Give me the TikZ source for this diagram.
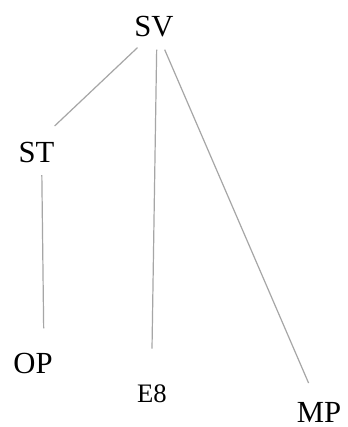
\documentclass[tikz,border=0pt]{standalone}
\usepackage{fontspec}
\setmainfont{Liberation Serif}
\usetikzlibrary{positioning}

\begin{document}
\begin{tikzpicture}[x=0.75pt,y=-0.75pt,
  lbl/.style={inner sep=0pt,font=\fontsize{23}{26}\selectfont},
  small/.style={inner sep=0pt,font=\fontsize{20}{23}\selectfont},
  edge/.style={draw=black!35,line width=0.9pt}]
\useasboundingbox[fill=white] (0,0) rectangle (348,427);
% labels
\node[lbl] (sv) at (154,27) {SV};
\node[lbl] (st) at (36.5,152.5) {ST};
\node[lbl] (op) at (33,363) {OP};
\node[small] (e8) at (152,394) {E8};
\node[lbl] (mp) at (319,412) {MP};
% connectors
\draw[edge] ([xshift=2.5pt,yshift=-7.5pt]sv.south west) -- ([yshift=12pt]st.north east);
\draw[edge] ([xshift=2pt,yshift=-9pt]sv.south) -- ([yshift=27pt]e8.north);
\draw[edge] ([xshift=8pt,yshift=-9pt]sv.south) -- ([xshift=9pt,yshift=14pt]mp.north west);
\draw[edge] ([xshift=4pt,yshift=-9pt]st.south) -- ([xshift=8pt,yshift=18pt]op.north);
\end{tikzpicture}
\end{document}
